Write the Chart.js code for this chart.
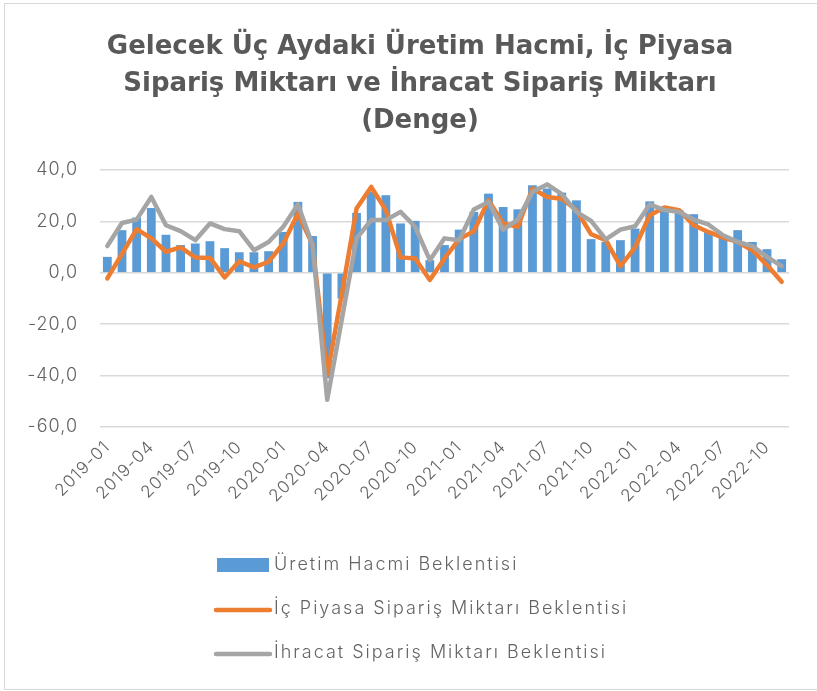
<!DOCTYPE html>
<html>
<head>
<meta charset="utf-8">
<script src="https://cdn.jsdelivr.net/npm/chart.js@4"></script>
<style>
  html, body { margin: 0; padding: 0; background: #fff; }
  #wrap { width: 817px; height: 691px; position: relative; }
</style>
</head>
<body>
<div id="wrap"><canvas id="canvas" width="817" height="691"></canvas></div>
<script>
var months = [
    "2019-01", "2019-02", "2019-03", "2019-04", "2019-05", "2019-06", "2019-07", "2019-08", "2019-09", "2019-10", "2019-11", "2019-12",
    "2020-01", "2020-02", "2020-03", "2020-04", "2020-05", "2020-06", "2020-07", "2020-08", "2020-09", "2020-10", "2020-11", "2020-12",
    "2021-01", "2021-02", "2021-03", "2021-04", "2021-05", "2021-06", "2021-07", "2021-08", "2021-09", "2021-10", "2021-11", "2021-12",
    "2022-01", "2022-02", "2022-03", "2022-04", "2022-05", "2022-06", "2022-07", "2022-08", "2022-09", "2022-10", "2022-11"
];

var uretimHacmi = [
    6.2, 16.6, 21.5, 25.2, 14.8, 10.8, 11.4, 12.3, 9.6, 8.0, 8.0, 8.4,
    15.9, 27.6, 14.3, -41.0, -10.0, 23.3, 31.5, 30.2, 19.2, 20.2, 4.9, 10.8,
    16.8, 23.7, 30.8, 25.6, 24.7, 34.1, 32.8, 31.2, 28.2, 13.1, 12.0, 12.7,
    17.2, 27.8, 25.0, 24.4, 22.8, 15.9, 14.0, 16.6, 12.0, 9.2, 5.3
];

var icPiyasa = [
    -2.2, 7.4, 17.0, 13.4, 8.2, 9.9, 6.0, 5.8, -1.8, 4.5, 2.1, 4.3,
    11.4, 23.0, 11.0, -39.7, -8.0, 25.0, 33.4, 24.4, 6.0, 5.6, -2.8, 5.6,
    13.1, 16.2, 28.2, 19.2, 17.9, 32.8, 29.5, 28.8, 24.4, 15.0, 12.7, 2.6,
    9.9, 22.4, 25.4, 24.4, 18.5, 15.9, 13.7, 12.0, 8.8, 3.0, -3.5
];

var ihracat = [
    10.4, 19.4, 20.7, 29.5, 18.5, 16.2, 12.7, 19.2, 17.0, 16.2, 8.8, 12.0,
    17.9, 26.6, 10.8, -49.4, -18.0, 13.4, 20.5, 20.5, 23.7, 17.9, 4.9, 13.4,
    12.7, 24.6, 27.6, 16.8, 20.7, 31.5, 34.4, 30.6, 23.7, 20.2, 13.0, 16.8,
    18.1, 26.6, 24.4, 23.7, 20.7, 18.8, 14.6, 12.0, 10.4, 6.2, 2.6
];

var seriesNames = ["Üretim Hacmi Beklentisi", "İç Piyasa Sipariş Miktarı Beklentisi", "İhracat Sipariş Miktarı Beklentisi"];
var titleLines = ["Gelecek Üç Aydaki Üretim Hacmi, İç Piyasa", "Sipariş Miktarı ve İhracat Sipariş Miktarı", "(Denge)"];

var textColor = "#595959";
var tickColor = "#636363";
var gridColor = "#d9d9d9";
var thinFont = "Inter";

// frame, white background and the title (centred like excel does it)
var framePlugin = {
    id: 'frame',
    beforeDraw: function (chart) {
        var ctx = chart.ctx;
        ctx.save();
        ctx.fillStyle = "#ffffff";
        ctx.fillRect(0, 0, chart.width, chart.height);
        ctx.strokeStyle = gridColor;
        ctx.lineWidth = 1;
        ctx.strokeRect(4.5, 3.5, chart.width + 10, chart.height - 5);

        ctx.fillStyle = textColor;
        ctx.font = "bold 26px 'DejaVu Sans'";
        ctx.textAlign = "center";
        ctx.textBaseline = "middle";
        for (var i = 0; i < titleLines.length; i++) {
            ctx.fillText(titleLines[i], 420, 47 + i * 37);
        }
        ctx.restore();
        // wide tick text, the original font is a wide one
        ctx.letterSpacing = "1px";
    },
    afterDraw: function (chart) {
        chart.ctx.letterSpacing = "0px";
    }
};

// vertical legend under the x axis
var legendPlugin = {
    id: 'stackLegend',
    afterDraw: function (chart) {
        var ctx = chart.ctx;
        var area = chart.chartArea;
        var left = area.left + 116;
        var top = area.bottom + 138;
        ctx.save();
        ctx.font = "300 18px '" + thinFont + "'";
        ctx.letterSpacing = "2px";
        ctx.textBaseline = "middle";
        ctx.textAlign = "left";
        chart.data.datasets.forEach(function (ds, i) {
            var y = top + i * 44;
            if (ds.type === 'bar') {
                ctx.fillStyle = ds.backgroundColor;
                ctx.fillRect(left + 1, y - 7, 52, 14);
            } else {
                ctx.strokeStyle = ds.borderColor;
                ctx.lineWidth = 4.5;
                ctx.lineCap = "round";
                ctx.beginPath();
                ctx.moveTo(left, y + 1);
                ctx.lineTo(left + 54, y + 1);
                ctx.stroke();
            }
            ctx.fillStyle = tickColor;
            ctx.fillText(ds.label, left + 58, y);
        });
        ctx.restore();
    }
};

var ctx = document.getElementById('canvas').getContext('2d');

var chart = new Chart(ctx, {
    type: 'bar',
    data: {
        labels: months,
        datasets: [{
            type: 'bar',
            label: seriesNames[0],
            data: uretimHacmi,
            backgroundColor: "#5b9bd5",
            barPercentage: 0.6,
            categoryPercentage: 1.0,
            order: 3
        }, {
            type: 'line',
            label: seriesNames[1],
            data: icPiyasa,
            borderColor: "#ed7d31",
            backgroundColor: "#ed7d31",
            borderWidth: 4.5,
            pointRadius: 0,
            tension: 0,
            borderCapStyle: 'round',
            borderJoinStyle: 'round',
            fill: false,
            order: 2
        }, {
            type: 'line',
            label: seriesNames[2],
            data: ihracat,
            borderColor: "#a5a5a5",
            backgroundColor: "#a5a5a5",
            borderWidth: 4.5,
            pointRadius: 0,
            tension: 0,
            borderCapStyle: 'round',
            borderJoinStyle: 'round',
            fill: false,
            order: 1
        }]
    },
    options: {
        responsive: false,
        animation: false,
        layout: {
            padding: { left: 0, right: 28, top: 170, bottom: 0 }
        },
        plugins: {
            legend: { display: false },
            tooltip: { enabled: false },
            title: { display: false }
        },
        scales: {
            x: {
                grid: { display: false },
                border: { display: false },
                ticks: {
                    autoSkip: false,
                    maxRotation: 45,
                    minRotation: 45,
                    color: tickColor,
                    font: { family: thinFont, size: 17, weight: '300' },
                    padding: 2,
                    callback: function (value, index) {
                        return index % 3 === 0 ? months[index] : "";
                    }
                },
                afterFit: function (scale) {
                    scale.height = 264;
                }
            },
            y: {
                min: -60,
                max: 40,
                grid: { color: gridColor, lineWidth: 1.5, drawTicks: false },
                border: { display: false },
                ticks: {
                    stepSize: 20,
                    color: tickColor,
                    padding: 22,
                    font: { family: thinFont, size: 18, weight: '300' },
                    callback: function (value) {
                        return value.toFixed(1).replace('.', ',');
                    }
                },
                afterFit: function (scale) {
                    scale.width = 100;
                }
            }
        }
    },
    plugins: [framePlugin, legendPlugin]
});
</script>
</body>
</html>
